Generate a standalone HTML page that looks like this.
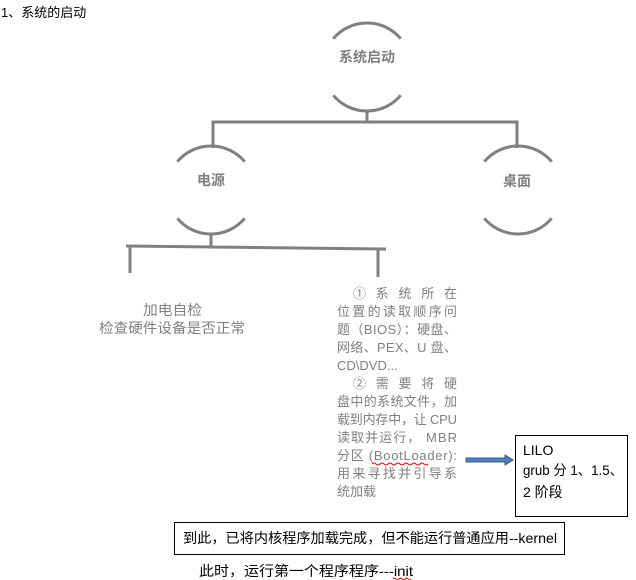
<!DOCTYPE html>
<html><head><meta charset="utf-8"><style>
body{margin:0;background:#fff;width:636px;height:580px;overflow:hidden;}
svg{display:block}
text{font-family:"Liberation Sans","Noto Sans CJK SC",sans-serif;}
</style></head><body>
<svg width="636" height="580" viewBox="0 0 636 580">
<text x="1" y="17" font-size="13" fill="#000">1、系统的启动</text>
<g fill="none" stroke="#808080" stroke-width="3">
<path d="M333.3 38.7 A44 44 0 0 1 400.7 38.7"/>
<path d="M333.3 95.3 A44 44 0 0 0 400.7 95.3"/>
<path d="M177.3 161.7 A44 44 0 0 1 244.7 161.7"/>
<path d="M177.3 218.3 A44 44 0 0 0 244.7 218.3"/>
<path d="M484.3 161.7 A44 44 0 0 1 551.7 161.7"/>
<path d="M484.3 218.3 A44 44 0 0 0 551.7 218.3"/>
<path d="M367 111 V122 M213 148 V122 H517 V148"/>
<path d="M211 234 V246 M126 246 L386 249 M130 246 V273 M378 248 V277"/>
</g>
<g font-size="14" font-weight="bold" fill="#7f7f7f" text-anchor="middle">
<text x="367" y="62">系统启动</text>
<text x="211" y="185">电源</text>
<text x="517" y="186">桌面</text>
</g>
<g font-size="14" fill="#808080">
<text x="143" y="315" textLength="59" lengthAdjust="spacingAndGlyphs">加电自检</text>
<text x="99" y="333" textLength="146" lengthAdjust="spacingAndGlyphs">检查硬件设备是否正常</text>
</g>
<g font-size="13" fill="#808080">
<text x="337" y="298" textLength="120" lengthAdjust="spacing">　①  系 统 所 在</text>
<text x="337" y="316" textLength="120" lengthAdjust="spacing">位置的读取顺序问</text>
<text x="337" y="334" textLength="120" lengthAdjust="spacing">题（BIOS）：硬盘、</text>
<text x="337" y="352" textLength="120" lengthAdjust="spacing">网络、PEX、U 盘、</text>
<text x="337" y="370">CD\DVD...</text>
<text x="337" y="388" textLength="120" lengthAdjust="spacing">　②  需 要 将 硬</text>
<text x="337" y="406" textLength="120" lengthAdjust="spacing">盘中的系统文件，加</text>
<text x="337" y="424" textLength="120" lengthAdjust="spacing">载到内存中，让 CPU</text>
<text x="337" y="442" textLength="120" lengthAdjust="spacing">读取并运行， MBR</text>
<text x="337" y="460" textLength="120" lengthAdjust="spacing">分区 (BootLoader):</text>
<text x="337" y="478" textLength="120" lengthAdjust="spacing">用来寻找并引导系</text>
<text x="337" y="496">统加载</text>
</g>
<path d="M372 464 q2 -2 4 0 t4 0 t4 0 t4 0 t4 0 t4 0 t4 0 t4 0 t4 0 t4 0 t4 0 t4 0 t4 0 t4 0" fill="none" stroke="#e00" stroke-width="1"/>
<path d="M466 458 H505 V455 L513 460 L505 465 V462 H466 Z" fill="#4f81bd" stroke="#385d8a" stroke-width="1"/>
<rect x="515.5" y="435.5" width="112" height="81" fill="#fff" stroke="#000"/>
<g font-size="14" fill="#000">
<text x="523" y="455">LILO</text>
<text x="523" y="475" textLength="100" lengthAdjust="spacingAndGlyphs">grub 分 1、1.5、</text>
<text x="523" y="497">2 阶段</text>
</g>
<rect x="174.5" y="522.5" width="390" height="32" fill="#fff" stroke="#000"/>
<text x="183" y="543" font-size="14" fill="#000" textLength="374" lengthAdjust="spacingAndGlyphs">到此，已将内核程序加载完成，但不能运行普通应用--kernel</text>
<text x="199" y="576" font-size="14" fill="#000" textLength="214" lengthAdjust="spacingAndGlyphs">此时，运行第一个程序程序---init</text>
<path d="M393 579 q1.5 -2 3 0 t3 0 t3 0 t3 0 t3 0 t3 0" fill="none" stroke="#e00" stroke-width="1"/>
</svg>
</body></html>
